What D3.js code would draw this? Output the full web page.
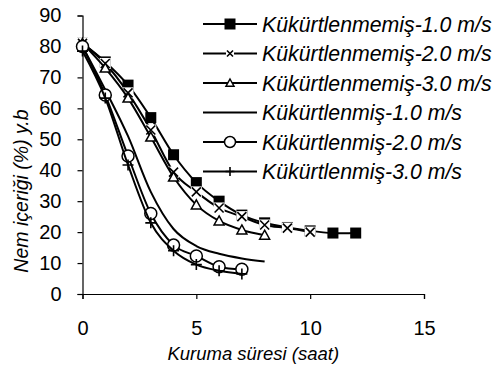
<!DOCTYPE html>
<html>
<head>
<meta charset="utf-8">
<script src="https://cdn.jsdelivr.net/npm/d3@7"></script>
<style>
  body { margin: 0; background: #fff; }
  svg text { font-family: Arial, "Liberation Sans", sans-serif; fill: #000; }
</style>
</head>
<body>
<div id="chart"></div>
<script>
// drying time (saat) and moisture content (%) per series
var seriesNames = [
  "Kükürtlenmemiş-1.0 m/s",
  "Kükürtlenmemiş-2.0 m/s",
  "Kükürtlenmemiş-3.0 m/s",
  "Kükürtlenmiş-1.0 m/s",
  "Kükürtlenmiş-2.0 m/s",
  "Kükürtlenmiş-3.0 m/s"
];
var markers = ["square", "cross", "triangle", "none", "circle", "plus"];

var x1 = [0, 1, 2, 3, 4, 5, 6, 7, 8, 9, 10, 11, 12];
var y1 = [81, 75, 67.5, 57, 45, 36, 30, 25.5, 23, 21.5, 20.4, 19.7, 19.7];
var x2 = [0, 1, 2, 3, 4, 5, 6, 7, 8, 9, 10];
var y2 = [81, 74.5, 65, 53, 39.4, 33, 27.8, 25, 22.3, 21.3, 20];
var x3 = [0, 1, 2, 3, 4, 5, 6, 7, 8];
var y3 = [81, 73, 63.3, 50.7, 37.8, 28.8, 23.6, 20.7, 19];
var x4 = [0, 1, 2, 3, 4, 5, 6, 7, 8];
var y4 = [80, 66, 51, 33, 21, 15.5, 13, 11.5, 10.5];
var x5 = [0, 1, 2, 3, 4, 5, 6, 7];
var y5 = [80, 64.3, 44.6, 26, 15.8, 12.3, 8.8, 8];
var x6 = [0, 1, 2, 3, 4, 5, 6, 7];
var y6 = [78.5, 63.3, 41.7, 23, 14, 9.5, 7.5, 6.5];

var xTicks = [0, 5, 10, 15];
var yTicks = [0, 10, 20, 30, 40, 50, 60, 70, 80, 90];

var xs = [x1, x2, x3, x4, x5, x6];
var ys = [y1, y2, y3, y4, y5, y6];

var width = 492, height = 365;
var plot = { left: 82.5, right: 424, top: 15.5, bottom: 294 };

var svg = d3.select("#chart").append("svg")
  .attr("width", width)
  .attr("height", height);

var x = d3.scaleLinear().domain([0, 15]).range([plot.left, plot.right]);
var y = d3.scaleLinear().domain([0, 90]).range([plot.bottom, plot.top]);

// axes
var yAxis = svg.append("g")
  .attr("transform", "translate(" + plot.left + ",0)")
  .call(d3.axisLeft(y).tickValues(yTicks).tickSize(5).tickPadding(16));
var xAxis = svg.append("g")
  .attr("transform", "translate(0," + plot.bottom + ")")
  .call(d3.axisBottom(x).tickValues(xTicks).tickSize(5).tickPadding(22));

[xAxis, yAxis].forEach(function(a) {
  a.select(".domain").attr("stroke", "#000").attr("stroke-width", 1.2);
  a.selectAll(".tick line").attr("stroke", "#000").attr("stroke-width", 1.2);
  a.selectAll(".tick text").attr("font-size", 20).attr("font-family", "Arial, 'Liberation Sans', sans-serif");
});

// axis titles
svg.append("text")
  .attr("x", (plot.left + plot.right) / 2)
  .attr("y", 360)
  .attr("text-anchor", "middle")
  .attr("font-size", 18.5)
  .attr("font-style", "italic")
  .text("Kuruma süresi (saat)");

svg.append("text")
  .attr("transform", "translate(28,191) rotate(-90)")
  .attr("text-anchor", "middle")
  .attr("font-size", 19.5)
  .attr("font-style", "italic")
  .text("Nem içeriği (%) y.b");

var line = d3.line()
  .x(function(d) { return x(d[0]); })
  .y(function(d) { return y(d[1]); })
  .curve(d3.curveCatmullRom.alpha(0));

function drawMarker(g, type, cx, cy, s) {
  if (type === "square") {
    g.append("rect").attr("x", cx - s / 2).attr("y", cy - s / 2)
      .attr("width", s).attr("height", s).attr("fill", "#000");
  } else if (type === "cross") {
    g.append("rect").attr("x", cx - s / 2).attr("y", cy - s / 2)
      .attr("width", s).attr("height", s).attr("fill", "#fff");
    var h = s / 2 - 1;
    g.append("path")
      .attr("d", "M" + (cx - h) + "," + (cy - h) + "L" + (cx + h) + "," + (cy + h) +
        "M" + (cx - h) + "," + (cy + h) + "L" + (cx + h) + "," + (cy - h))
      .attr("stroke", "#000").attr("stroke-width", 1.6);
  } else if (type === "triangle") {
    var r = s / 2;
    g.append("path")
      .attr("d", "M" + cx + "," + (cy - r) + "L" + (cx + r) + "," + (cy + r * 0.8) +
        "L" + (cx - r) + "," + (cy + r * 0.8) + "Z")
      .attr("fill", "#fff").attr("stroke", "#000").attr("stroke-width", 1.5);
  } else if (type === "circle") {
    g.append("circle").attr("cx", cx).attr("cy", cy).attr("r", s / 2)
      .attr("fill", "#fff").attr("stroke", "#000").attr("stroke-width", 1.5);
  } else if (type === "plus") {
    var p = s / 2;
    g.append("path")
      .attr("d", "M" + (cx - p) + "," + cy + "L" + (cx + p) + "," + cy +
        "M" + cx + "," + (cy - p) + "L" + cx + "," + (cy + p))
      .attr("stroke", "#000").attr("stroke-width", 1.6);
  }
}

var plotSizes = [11, 11, 10, 0, 12, 11];
var legSizes = [11, 8, 8, 0, 11, 9];

for (var i = 0; i < xs.length; i++) {
  var pts = xs[i].map(function(v, j) { return [v, ys[i][j]]; });
  var g = svg.append("g").attr("class", "series");
  g.append("path")
    .datum(pts)
    .attr("d", line)
    .attr("fill", "none")
    .attr("stroke", "#000")
    .attr("stroke-width", 2);
  pts.forEach(function(p) {
    drawMarker(g, markers[i], x(p[0]), y(p[1]), plotSizes[i]);
  });
}

// legend
var legY = [24, 53.5, 83, 112.5, 142, 171.5];
var leg = svg.append("g").attr("class", "legend");
seriesNames.forEach(function(name, i) {
  leg.append("line")
    .attr("x1", 203).attr("x2", 257)
    .attr("y1", legY[i]).attr("y2", legY[i])
    .attr("stroke", "#000").attr("stroke-width", 2);
  drawMarker(leg, markers[i], 230, legY[i], legSizes[i]);
  leg.append("text")
    .attr("x", 262)
    .attr("y", legY[i])
    .attr("dy", "0.36em")
    .attr("font-size", 21.3)
    .attr("font-style", "italic")
    .text(name);
});
</script>
</body>
</html>
